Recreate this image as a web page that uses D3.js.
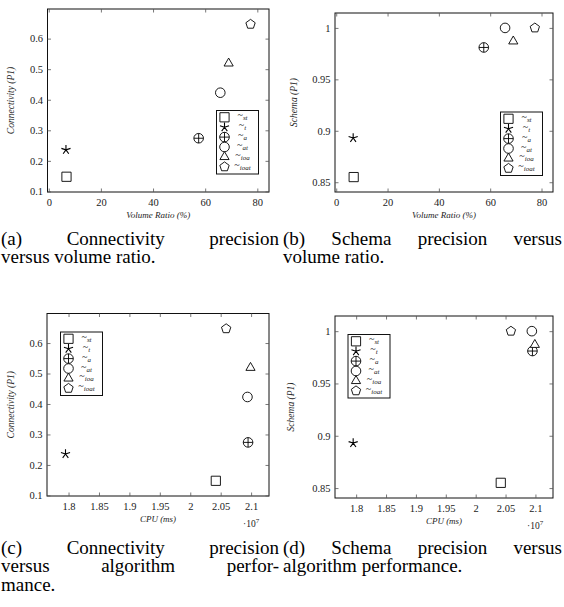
<!DOCTYPE html>
<html>
<head>
<meta charset="utf-8">
<script src="https://cdn.jsdelivr.net/npm/d3@7"></script>
<style>
  body { margin: 0; background: #fff; }
  svg { display: block; font-family: "Liberation Serif", "DejaVu Serif", serif; }
</style>
</head>
<body>
<svg id="chart" width="564" height="607"></svg>
<script>
// methods shown in every panel (legend order)
var methods = ["st", "t", "a", "at", "ioa", "ioat"];
var markTypes = ["square", "star", "oplus", "circle", "triangle", "pentagon"];

// values, one per method
var volumeRatio = [6.8, 6.6, 57.5, 65.8, 69.0, 77.4];        // %
var cpuTime = [2.042e7, 1.795e7, 2.095e7, 2.094e7, 2.099e7, 2.059e7]; // ms
var connectivity = [0.148, 0.236, 0.274, 0.423, 0.519, 0.647];
var schema = [0.855, 0.893, 0.981, 1.0, 0.987, 1.0];

// tick labels
var volumeTicks = [0, 20, 40, 60, 80];
var cpuTicks = [1.8, 1.85, 1.9, 1.95, 2, 2.05, 2.1];   // x 10^7
var connTicks = [0.1, 0.2, 0.3, 0.4, 0.5, 0.6];
var schemaTicks = [0.85, 0.9, 0.95, 1];

var svg = d3.select("#chart");

// pgfplots style: 10% of the data range added on each side
function enlarged(values) {
    var ext = d3.extent(values), r = ext[1] - ext[0];
    return [ext[0] - 0.1 * r, ext[1] + 0.1 * r];
}

function markPath(type) {
    var p = d3.path(), i, a;
    if (type == "star") {
        for (i = 0; i < 5; i++) {
            a = -Math.PI / 2 + i * 2 * Math.PI / 5;
            p.moveTo(0, 0);
            p.lineTo(4.8 * Math.cos(a), 4.8 * Math.sin(a));
        }
    } else if (type == "triangle" || type == "pentagon") {
        var n = type == "triangle" ? 3 : 5, r = type == "triangle" ? 5.3 : 4.9;
        for (i = 0; i < n; i++) {
            a = -Math.PI / 2 + i * 2 * Math.PI / n;
            if (i == 0) p.moveTo(r * Math.cos(a), r * Math.sin(a));
            else p.lineTo(r * Math.cos(a), r * Math.sin(a));
        }
        p.closePath();
    } else if (type == "square") {
        p.rect(-4.6, -4.6, 9.2, 9.2);
    } else {
        p.moveTo(4.8, 0);
        p.arc(0, 0, 4.8, 0, 2 * Math.PI);
        if (type == "oplus") {
            p.moveTo(-4.8, 0); p.lineTo(4.8, 0);
            p.moveTo(0, -4.8); p.lineTo(0, 4.8);
        }
    }
    return p.toString();
}

function drawMark(g, type, x, y) {
    g.append("path")
        .attr("d", markPath(type))
        .attr("transform", "translate(" + x + "," + y + ")")
        .attr("fill", type == "star" ? "none" : "#fff")
        .attr("stroke", "#000")
        .attr("stroke-width", type == "star" ? 1.1 : 0.9);
}

function drawPanel(cfg) {
    var g = svg.append("g");
    var x = d3.scaleLinear().domain(enlarged(cfg.xs)).range([cfg.left, cfg.right]);
    var y = d3.scaleLinear().domain(enlarged(cfg.ys)).range([cfg.bottom, cfg.top]);

    // frame
    g.append("rect")
        .attr("x", cfg.left).attr("y", cfg.top)
        .attr("width", cfg.right - cfg.left).attr("height", cfg.bottom - cfg.top)
        .attr("fill", "none").attr("stroke", "#111").attr("stroke-width", 1);

    // ticks point inward on all four sides
    var xt = cfg.xTicks.map(function (d) { return d * cfg.xTickScale; });
    var axes = [
        d3.axisBottom(x).tickValues(xt).tickSizeInner(-3.5).tickSizeOuter(0)
            .tickFormat(function (d) { return d3.format("~g")(+(d / cfg.xTickScale).toFixed(3)); }),
        d3.axisTop(x).tickValues(xt).tickSizeInner(-3.5).tickSizeOuter(0).tickFormat(""),
        d3.axisLeft(y).tickValues(cfg.yTicks).tickSizeInner(-3.5).tickSizeOuter(0)
            .tickFormat(d3.format("~g")),
        d3.axisRight(y).tickValues(cfg.yTicks).tickSizeInner(-3.5).tickSizeOuter(0).tickFormat("")
    ];
    var offs = ["translate(0," + cfg.bottom + ")", "translate(0," + cfg.top + ")",
                "translate(" + cfg.left + ",0)", "translate(" + cfg.right + ",0)"];
    axes.forEach(function (ax, i) {
        var a = g.append("g").attr("transform", offs[i]).call(ax);
        a.select(".domain").remove();
        a.selectAll("line").attr("stroke", "#555").attr("stroke-width", 0.8);
        a.selectAll("text")
            .attr("font-family", "Liberation Serif")
            .attr("font-size", 10.5).attr("fill", "#222");
        if (i == 0) a.selectAll("text").attr("y", 7);
        if (i == 2) a.selectAll("text").attr("x", -4.5);
    });

    // axis labels
    g.append("text")
        .attr("x", (cfg.left + cfg.right) / 2).attr("y", cfg.bottom + 26)
        .attr("text-anchor", "middle").attr("font-size", 9).attr("font-style", "italic")
        .attr("fill", "#222")
        .text(cfg.xLabel);
    g.append("text")
        .attr("transform", "translate(" + cfg.yLabelX + "," + ((cfg.top + cfg.bottom) / 2) + ") rotate(-90)")
        .attr("text-anchor", "middle").attr("font-size", 9.5).attr("font-style", "italic")
        .attr("fill", "#222")
        .text(cfg.yLabel);

    if (cfg.xTickScale != 1) {
        var mult = g.append("text")
            .attr("x", cfg.right - 26).attr("y", cfg.bottom + 31)
            .attr("font-size", 9.5).attr("fill", "#222");
        mult.append("tspan").text("·10");
        mult.append("tspan").attr("font-size", 7).attr("dy", -4).text("7");
    }

    // points
    methods.forEach(function (m, i) {
        drawMark(g, markTypes[i], x(cfg.xs[i]), y(cfg.ys[i]));
    });

    // legend
    var lg = g.append("g").attr("transform", "translate(" + cfg.legend[0] + "," + cfg.legend[1] + ")");
    lg.append("rect")
        .attr("width", 42).attr("height", 63.5)
        .attr("fill", "#fff").attr("stroke", "#111").attr("stroke-width", 1);
    methods.forEach(function (m, i) {
        var ly = 6.8 + i * 9.9;
        drawMark(lg, markTypes[i], 8, ly);
        var t = lg.append("text")
            .attr("x", 26).attr("y", ly + 1)
            .attr("text-anchor", "middle").attr("font-size", 10).attr("fill", "#222");
        t.append("tspan").text("~");
        t.append("tspan").attr("font-size", 7).attr("font-style", "italic").attr("dy", 2).text(m);
    });
}

var panels = [
    { xs: volumeRatio, ys: connectivity, xTicks: volumeTicks, xTickScale: 1, yTicks: connTicks,
      left: 47.5, right: 269, top: 9, bottom: 192, yLabelX: 14,
      xLabel: "Volume Ratio (%)", yLabel: "Connectivity (P1)", legend: [216.5, 110.5] },
    { xs: volumeRatio, ys: schema, xTicks: volumeTicks, xTickScale: 1, yTicks: schemaTicks,
      left: 335, right: 553, top: 13, bottom: 192, yLabelX: 297,
      xLabel: "Volume Ratio (%)", yLabel: "Schema (P1)", legend: [500.5, 112] },
    { xs: cpuTime, ys: connectivity, xTicks: cpuTicks, xTickScale: 1e7, yTicks: connTicks,
      left: 47, right: 269, top: 313.5, bottom: 496, yLabelX: 14,
      xLabel: "CPU (ms)", yLabel: "Connectivity (P1)", legend: [60.5, 332] },
    { xs: cpuTime, ys: schema, xTicks: cpuTicks, xTickScale: 1e7, yTicks: schemaTicks,
      left: 335, right: 553, top: 316, bottom: 498, yLabelX: 294,
      xLabel: "CPU (ms)", yLabel: "Schema (P1)", legend: [348, 334.5] }
];
panels.forEach(drawPanel);

// subfigure captions, justified like the LaTeX original
var captions = [
    { x0: 1, x1: 279, lines: [["(a)", "Connectivity", "precision"], "versus volume ratio."], y: 245 },
    { x0: 283, x1: 562, lines: [["(b)", "Schema", "precision", "versus"], "volume ratio."], y: 245 },
    { x0: 1, x1: 279, lines: [["(c)", "Connectivity", "precision"], ["versus", "algorithm", "perfor-"], "mance."], y: 554 },
    { x0: 283, x1: 562, lines: [["(d)", "Schema", "precision", "versus"], "algorithm performance."], y: 554 }
];
var capFont = 19;
captions.forEach(function (c) {
    c.lines.forEach(function (line, li) {
        var by = c.y + li * 18.3;
        if (typeof line == "string") {
            svg.append("text").attr("x", c.x0).attr("y", by)
                .attr("font-size", capFont).attr("fill", "#000").text(line);
            return;
        }
        var words = line.map(function (w) {
            return svg.append("text").attr("y", by).attr("font-size", capFont).attr("fill", "#000").text(w);
        });
        var total = d3.sum(words, function (t) { return t.node().getComputedTextLength(); });
        var gap = (c.x1 - c.x0 - total) / (words.length - 1);
        var cx = c.x0;
        words.forEach(function (t) {
            t.attr("x", cx);
            cx += t.node().getComputedTextLength() + gap;
        });
    });
});
</script>
</body>
</html>
